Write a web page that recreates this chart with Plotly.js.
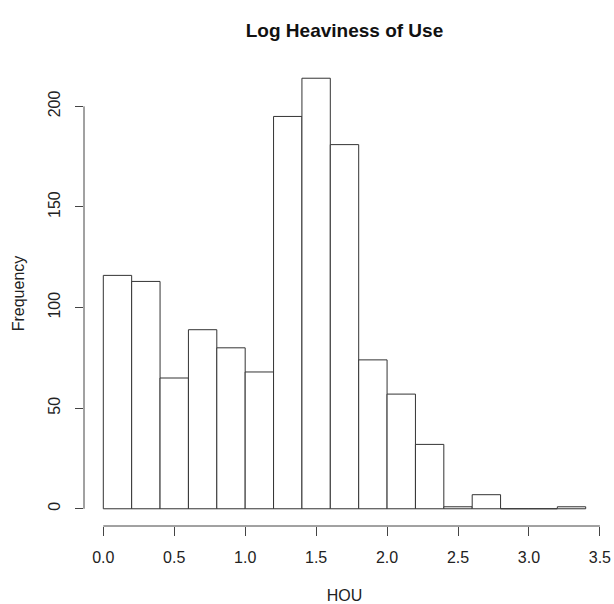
<!DOCTYPE html>
<html>
<head>
<meta charset="utf-8">
<script src="https://cdn.plot.ly/plotly-3.0.1.min.js"></script>
<style>html,body{margin:0;padding:0;background:#fff;}#chart{width:614px;height:604px;}</style>
</head>
<body>
<div id="chart"></div>
<script>
// Histogram bins (HOU), width 0.2
const binStarts = [0.0, 0.2, 0.4, 0.6, 0.8, 1.0, 1.2, 1.4, 1.6, 1.8, 2.0, 2.2, 2.4, 2.6, 2.8, 3.0, 3.2];
const binWidth = 0.2;
const counts = [116, 113, 65, 89, 80, 68, 195, 214, 181, 74, 57, 32, 1, 7, 0, 0, 1];
const xTicks = [0.0, 0.5, 1.0, 1.5, 2.0, 2.5, 3.0, 3.5];
const xTickLabels = ["0.0", "0.5", "1.0", "1.5", "2.0", "2.5", "3.0", "3.5"];
const yTicks = [0, 50, 100, 150, 200];
const yTickLabels = ["0", "50", "100", "150", "200"];

const centers = binStarts.map(s => s + binWidth / 2);
const xMin = binStarts[0], xMax = binStarts[binStarts.length - 1] + binWidth;
const xPad = (xMax - xMin) * 0.04;
const yMaxData = Math.max(...counts);
const yPad = yMaxData * 0.04;

const FONT = "Liberation Sans, Arial, Helvetica, sans-serif";
const TXT = "#222";

const trace = {
  type: "bar",
  x: centers,
  y: counts,
  width: binWidth,
  marker: { color: "#ffffff", line: { color: "#333", width: 1 } },
  hoverinfo: "x+y"
};

const layout = {
  width: 614, height: 604,
  margin: { l: 84, r: 9, t: 61, b: 78, pad: 0 },
  paper_bgcolor: "#fff", plot_bgcolor: "#fff",
  showlegend: false,
  bargap: 0,
  font: { family: FONT, size: 16, color: TXT },
  title: {
    text: "<b>Log Heaviness of Use</b>",
    font: { family: FONT, size: 19, color: "#111" },
    xref: "paper", x: 0.5, xanchor: "center",
    yref: "container", y: 1 - 30 / 604, yanchor: "middle"
  },
  xaxis: {
    range: [xMin - xPad, xMax + xPad],
    tickmode: "array", tickvals: xTicks, ticktext: xTickLabels,
    ticks: "outside", ticklen: 9, tickwidth: 1, tickcolor: "#444",
    ticklabelstandoff: 8,
    showline: false, showgrid: false, zeroline: false,
    tickfont: { family: FONT, size: 16, color: TXT },
    title: { text: "HOU", font: { family: FONT, size: 16, color: TXT }, standoff: 24 },
    fixedrange: true
  },
  yaxis: {
    range: [-yPad, yMaxData + yPad],
    tickmode: "array", tickvals: yTicks, ticktext: yTickLabels,
    ticks: "outside", ticklen: 8, tickwidth: 1, tickcolor: "#444",
    tickangle: -90,
    ticklabelstandoff: 9,
    showline: false, showgrid: false, zeroline: false,
    tickfont: { family: FONT, size: 16, color: TXT },
    title: { text: "Frequency", font: { family: FONT, size: 16, color: TXT }, standoff: 16 },
    fixedrange: true
  },
  shapes: [
    { type: "line", xref: "x", yref: "paper", x0: xTicks[0], x1: xTicks[xTicks.length - 1], y0: 0, y1: 0,
      line: { color: "#444", width: 1 } },
    { type: "line", xref: "paper", yref: "y", x0: 0, x1: 0, y0: yTicks[0], y1: yTicks[yTicks.length - 1],
      line: { color: "#444", width: 1 } }
  ]
};

Plotly.newPlot("chart", [trace], layout, { staticPlot: true, displayModeBar: false });
</script>
</body>
</html>
